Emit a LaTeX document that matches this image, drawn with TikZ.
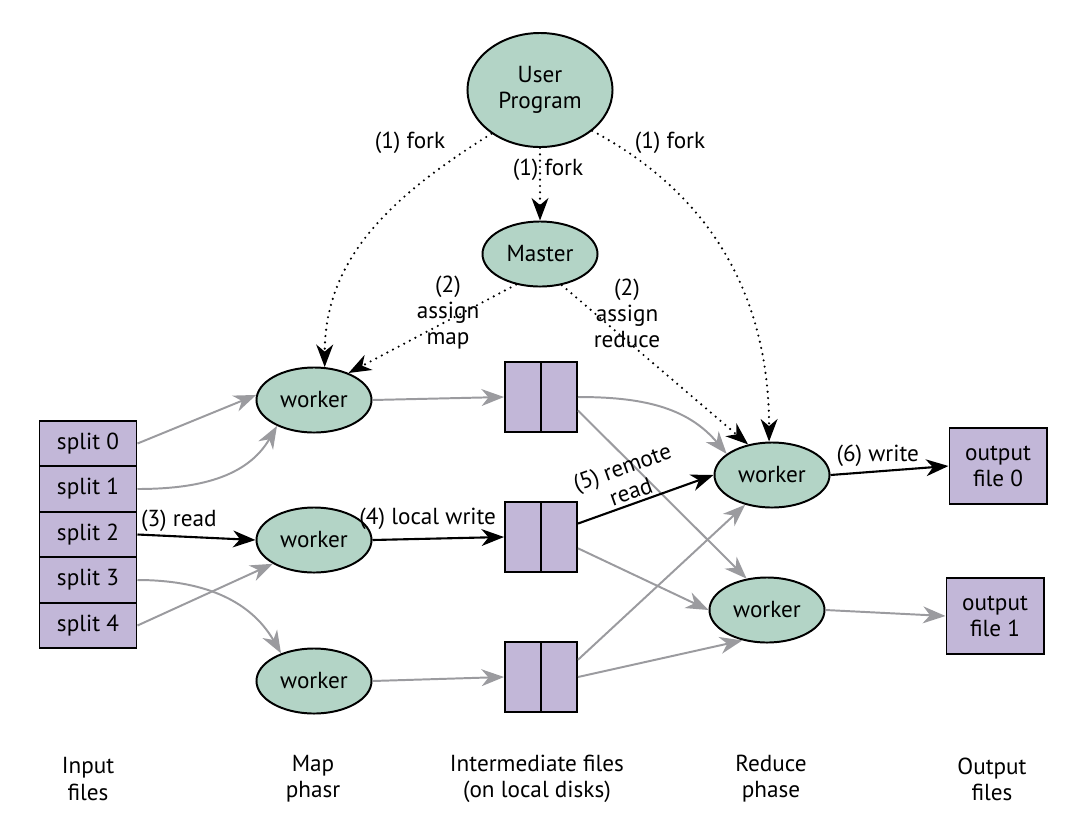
\documentclass[tikz,border=0pt]{standalone}
\usepackage{fontspec}
\setmainfont{PT Sans}
\usetikzlibrary{shapes.geometric,arrows.meta}
\definecolor{workergreen}{HTML}{B3D4C6}
\definecolor{filepurple}{HTML}{C2B7D8}
\definecolor{flowgray}{HTML}{9B9B9F}

\begin{document}
\begin{tikzpicture}
[x=0.025cm,y=-0.025cm,%
  font=\fontsize{16.5}{18.5}\selectfont,%
  proc/.style={shape=ellipse,draw,line width=1.4pt,fill=workergreen,inner sep=0pt,align=center},%
  worker/.style={proc,minimum width=2.875cm,minimum height=1.625cm},%
  filebox/.style={shape=rectangle,draw,line width=1.4pt,fill=filepurple,inner sep=0pt,align=center},%
  split/.style={filebox,minimum width=2.425cm,minimum height=1.1375cm},%
  interfile/.style={filebox,minimum width=1.8cm,minimum height=1.75cm},%
  outfile/.style={filebox,minimum width=2.425cm,minimum height=1.9cm},%
  tip/.style={-{Stealth[length=16pt,width=12pt,inset=5pt]}},%
  flow/.style={tip,draw=flowgray,line width=1.4pt},%
  ctrl/.style={tip,draw=black,line width=1.5pt},%
  fork/.style={tip,line width=1.7pt,dash pattern=on 0pt off 4.5pt,line cap=round},%
  lbl/.style={inner sep=1pt,align=center}]
% nodes
\node[proc,minimum width=3.625cm,minimum height=2.85cm] (user) at (540,90) {User\\Program};
\node[proc,minimum width=2.875cm,minimum height=1.625cm] (master) at (540,254) {Master};
\foreach \i in {0,...,4}
  \node[split] (s\i) at (88,{443.5+45.5*\i}) {split \i};
\node[worker] (w1) at (314,400) {worker};
\node[worker] (w2) at (314,540) {worker};
\node[worker] (w3) at (314,681) {worker};
\foreach \n/\y in {f1/397,f2/537,f3/677} {
  \node[interfile] (\n) at (541,\y) {};
  \draw[line width=1.4pt] (\n.north) -- (\n.south);
}
\node[worker] (r1) at (772,475) {worker};
\node[worker] (r2) at (767,610) {worker};
\node[outfile] (o0) at (998,466) {output\\file 0};
\node[outfile] (o1) at (995,616) {output\\file 1};
% fork and assign
\draw[fork] (user.222) to[out=212,in=90] (w1.72);
\draw[fork] (user) -- (master);
\draw[fork] (user.-38) to[out=-28,in=90] (r1.95);
\draw[fork] (master.232) -- (w1.38);
\draw[fork] (master.-55) -- (r1.128);
\node[lbl] (lfork) at (410,143) {(1) fork};
\node[lbl] (mfork) at (548,170) {(1) fork};
\node[lbl] (rfork) at (670,143) {(1) fork};
\node[lbl] (amap) at (448,313) {(2)\\assign\\map};
\node[lbl] (ared) at (627,313) {(2)\\assign\\reduce};
% map side
\draw[flow] (s0.east) -- (w1.175);
\draw[flow] (s1.east) to[out=0,in=240] (w1.215);
\draw[ctrl] (s2.east) -- (w2.west) node[lbl,pos=0.35,above=2pt] {(3) read};
\draw[flow] (s3.east) to[out=0,in=120] (w3.140);
\draw[flow] (s4.east) -- (w2.210);
\draw[flow] (w1.east) -- (f1.west);
\draw[ctrl] (w2.east) -- (f2.west) node[lbl,pos=0.42,above=5pt] {(4) local write};
\draw[flow] (w3.east) -- (f3.west);
% reduce side
\draw[flow] (f1.east) to[out=0,in=130] (r1.155);
\draw[flow] (f1.-20) -- (r2.123);
\draw[ctrl] (f2.20) -- (r1.180) node[lbl,pos=0.42,above=1pt,sloped] {(5) remote\\read};
\draw[flow] (f2.-17) -- (r2.180);
\draw[flow] (f3.25) -- (r1.228);
\draw[flow] (f3.east) -- (r2.231);
\draw[ctrl] (r1.east) -- (o0.west) node[lbl,pos=0.4,above=2pt] {(6) write};
\draw[flow] (r2.east) -- (o1.west);
% column titles
\node[lbl] (tin) at (88,779) {Input\\files};
\node[lbl] (tmap) at (313,779) {Map\\phasr};
\node[lbl] (tmid) at (537,779) {Intermediate files\\(on local disks)};
\node[lbl] (tred) at (771,779) {Reduce\\phase};
\node[lbl] (tout) at (992,779) {Output\\files};
\useasboundingbox (0,0) rectangle (1080,831);
\end{tikzpicture}
\end{document}
